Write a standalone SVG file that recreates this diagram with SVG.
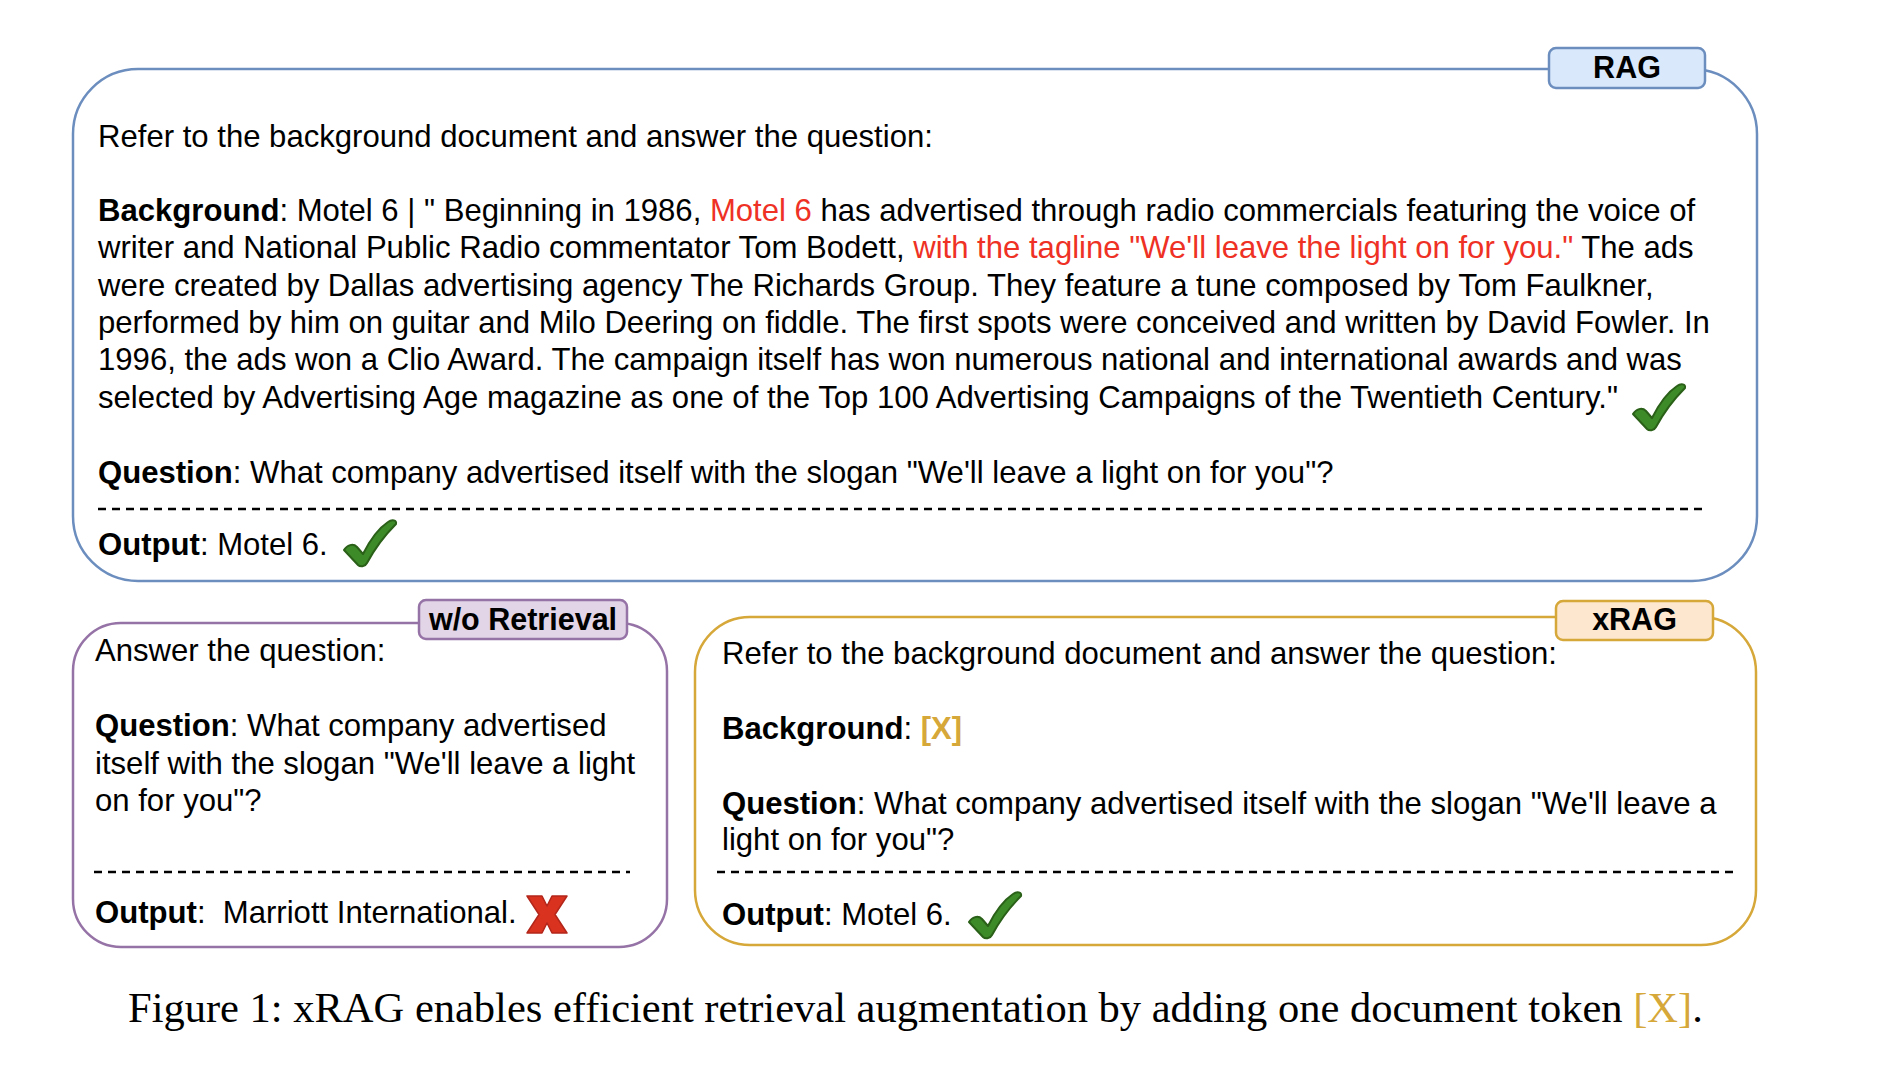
<svg xmlns="http://www.w3.org/2000/svg" xmlns:xlink="http://www.w3.org/1999/xlink" width="1882" height="1078" viewBox="0 0 1882 1078">
<style>
.t{font-family:"Liberation Sans",Arial,Helvetica,sans-serif;font-size:31.1px;fill:#000;white-space:pre}
.b{font-weight:bold}
.red{fill:#ee3124}
.gold{fill:#d6a739;font-weight:bold}
.lbl{font-family:"Liberation Sans",Arial,Helvetica,sans-serif;font-size:30.5px;font-weight:bold;fill:#000;text-anchor:middle}
.dash{stroke:#000;stroke-width:2.5;stroke-dasharray:8 6;fill:none}
.cap{font-family:"Liberation Serif","Times New Roman",serif;font-size:42.5px;fill:#000}
</style>
<defs>
<path id="check" d="M1,31 C4,26 10,24 14,28 L20,35 C27,21 36,9 45,3 C49,0 54,1 53,5 C42,16 31,31 24,44 C22,48 17,48 15,46 Z" fill="#3c8a28" stroke="#2a6018" stroke-width="2" stroke-linejoin="round"/>
<polygon id="cross" points="0,0 15,0 20,10 25,0 40,0 28,18.5 40,37 25,37 20,27 15,37 0,37 12,18.5" fill="#d9321f" stroke="#b3261a" stroke-width="1.5" stroke-linejoin="round"/>
</defs>
<rect width="1882" height="1078" fill="#fff"/>

<g id="rag">
<rect x="73" y="69" width="1684" height="512" rx="65" ry="65" fill="#fff" stroke="#6c8ebf" stroke-width="2.5"/>
<rect x="1549" y="48" width="156" height="40" rx="7" fill="#dae8fc" stroke="#6c8ebf" stroke-width="2.5"/>
<text class="lbl" x="1627" y="78">RAG</text>
<text class="t" x="98" y="147">Refer to the background document and answer the question:</text>
<text class="t" x="98" y="221"><tspan class="b">Background</tspan>: Motel 6 | " Beginning in 1986, <tspan class="red">Motel 6</tspan> has advertised through radio commercials featuring the voice of</text>
<text class="t" x="98" y="258">writer and National Public Radio commentator Tom Bodett, <tspan class="red">with the tagline "We'll leave the light on for you."</tspan> The ads</text>
<text class="t" x="98" y="295.5">were created by Dallas advertising agency The Richards Group. They feature a tune composed by Tom Faulkner,</text>
<text class="t" x="98" y="333">performed by him on guitar and Milo Deering on fiddle. The first spots were conceived and written by David Fowler. In</text>
<text class="t" x="98" y="370">1996, the ads won a Clio Award. The campaign itself has won numerous national and international awards and was</text>
<text class="t" x="98" y="407.5">selected by Advertising Age magazine as one of the Top 100 Advertising Campaigns of the Twentieth Century."</text>
<use xlink:href="#check" href="#check" transform="translate(1632,383)"/>
<text class="t" x="98" y="483"><tspan class="b">Question</tspan>: What company advertised itself with the slogan "We'll leave a light on for you"?</text>
<line class="dash" x1="98" y1="509" x2="1706" y2="509"/>
<text class="t" x="98" y="555"><tspan class="b">Output</tspan>: Motel 6.</text>
<use xlink:href="#check" href="#check" transform="translate(343,519)"/>
</g>

<g id="wo-retrieval">
<rect x="73" y="623" width="594" height="324" rx="48" ry="48" fill="#fff" stroke="#9673a6" stroke-width="2.5"/>
<rect x="419" y="600" width="208" height="39" rx="7" fill="#e1d5e7" stroke="#9673a6" stroke-width="2.5"/>
<text class="lbl" x="523" y="630">w/o Retrieval</text>
<text class="t" x="95" y="661">Answer the question:</text>
<text class="t" x="95" y="736"><tspan class="b">Question</tspan>: What company advertised</text>
<text class="t" x="95" y="773.5">itself with the slogan "We'll leave a light</text>
<text class="t" x="95" y="811">on for you"?</text>
<line class="dash" x1="94" y1="872" x2="630" y2="872"/>
<text class="t" x="95" y="923"><tspan class="b">Output</tspan>:  Marriott International.</text>
<use xlink:href="#cross" href="#cross" transform="translate(527,896)"/>
</g>

<g id="xrag">
<rect x="695" y="617" width="1061" height="328" rx="55" ry="55" fill="#fff" stroke="#d6a739" stroke-width="2.5"/>
<rect x="1556" y="601" width="157" height="39" rx="7" fill="#fde7cf" stroke="#d6a739" stroke-width="2.5"/>
<text class="lbl" x="1634.5" y="630">xRAG</text>
<text class="t" x="722" y="664">Refer to the background document and answer the question:</text>
<text class="t" x="722" y="739"><tspan class="b">Background</tspan>: <tspan class="gold">[X]</tspan></text>
<text class="t" x="722" y="814"><tspan class="b">Question</tspan>: What company advertised itself with the slogan "We'll leave a</text>
<text class="t" x="722" y="850">light on for you"?</text>
<line class="dash" x1="717" y1="872" x2="1736" y2="872"/>
<text class="t" x="722" y="925"><tspan class="b">Output</tspan>: Motel 6.</text>
<use xlink:href="#check" href="#check" transform="translate(968,891)"/>
</g>

<g id="connectors"></g>

<text class="cap" x="128" y="1022">Figure 1: xRAG enables efficient retrieval augmentation by adding one document token <tspan fill="#d6a739">[X]</tspan>.</text>
</svg>
